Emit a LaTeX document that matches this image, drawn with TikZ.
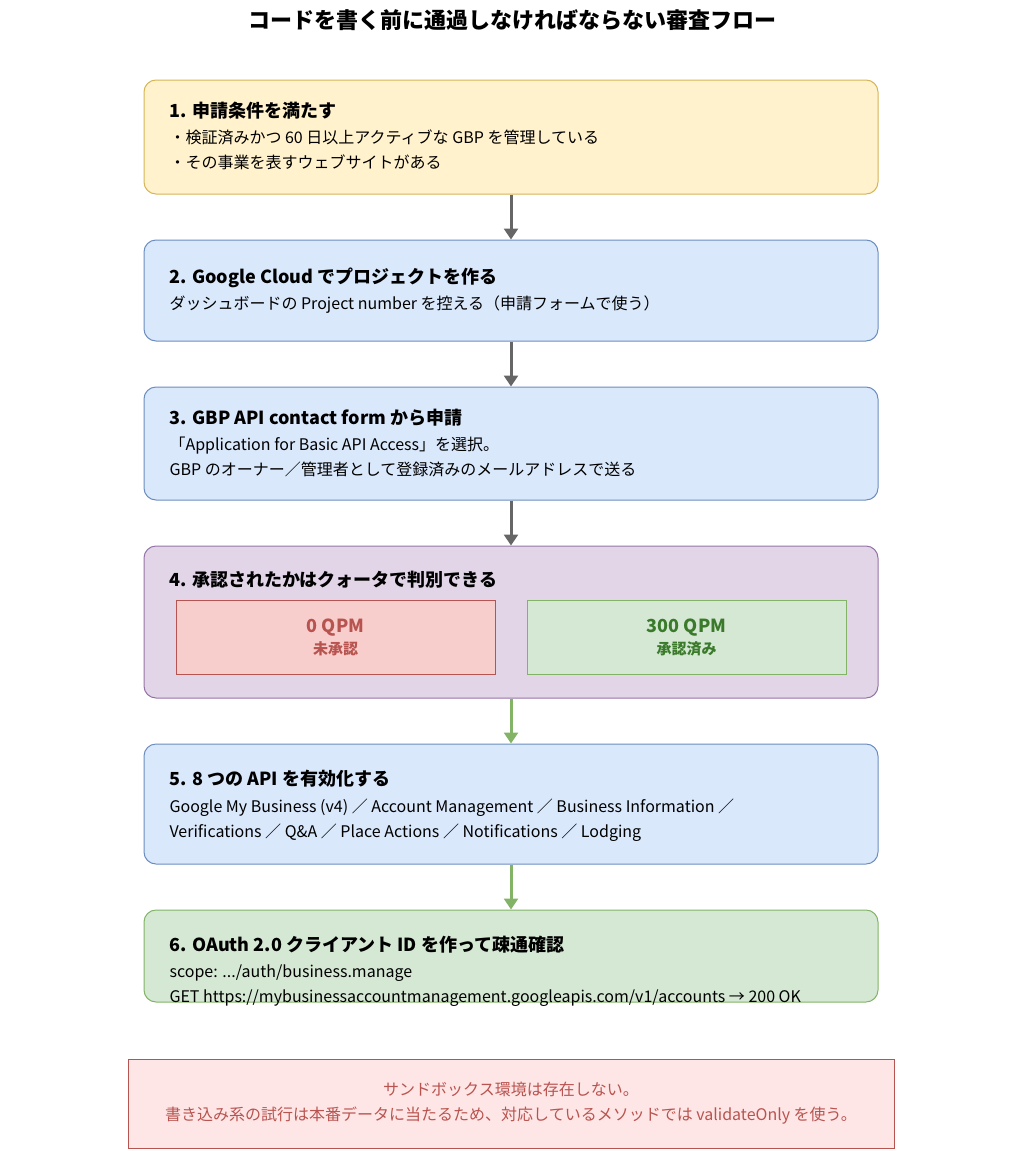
\documentclass[tikz,border=0pt]{standalone}
\usepackage{fontspec}
\setmainfont{Noto Sans CJK JP}
\usepackage{xcolor}
\usetikzlibrary{positioning, arrows.meta}
\definecolor{ykFill}{HTML}{FFF2CC}
\definecolor{ykDraw}{HTML}{D6B656}
\definecolor{blFill}{HTML}{DAE8FC}
\definecolor{blDraw}{HTML}{6C8EBF}
\definecolor{puFill}{HTML}{E1D5E7}
\definecolor{puDraw}{HTML}{9673A6}
\definecolor{rdFill}{HTML}{F8CECC}
\definecolor{rdDraw}{HTML}{B85450}
\definecolor{grFill}{HTML}{D5E8D4}
\definecolor{grDraw}{HTML}{82B366}
\definecolor{grText}{HTML}{3A7A2A}
\definecolor{noteFill}{HTML}{FFE6E6}
\definecolor{arGray}{HTML}{666666}
\tikzset{
    stage/.style={
        rectangle,
        rounded corners=12pt,
        line width=1pt,
        minimum width=734pt,
        inner sep=0pt
    },
    quota/.style={
        rectangle,
        line width=1pt,
        minimum width=319pt,
        minimum height=74pt,
        font=\fontsize{18}{24}\selectfont\bfseries,
        align=center
    },
    head/.style={
        anchor=west,
        font=\fontsize{18}{20}\selectfont\bfseries
    },
    body/.style={
        anchor=north west,
        align=left,
        font=\fontsize{16}{25}\selectfont
    },
    flow/.style={
        -{Triangle[length=11pt,width=14pt]},
        line width=3pt
    }
}
\begin{document}
\begin{tikzpicture}[x=1pt, y=-1pt]
  \useasboundingbox (0,0) rectangle (1024,1151);

  % title
  \node[font=\fontsize{22}{24}\selectfont\bfseries] (title) at (512,20) {コードを書く前に通過しなければならない審査フロー};

  % 1: requirements
  \node[stage, fill=ykFill, draw=ykDraw, minimum height=114pt] (s1) at (511,137) {};
  \node[head] (h1) at (166,111) {1. 申請条件を満たす};
  \node[body] (b1) at (166,126) {・検証済みかつ 60 日以上アクティブな GBP を管理している\\・その事業を表すウェブサイトがある};

  % 2: project
  \node[stage, fill=blFill, draw=blDraw, minimum height=101pt] (s2) at (511,290.5) {};
  \node[head] (h2) at (166,278) {2. Google Cloud でプロジェクトを作る};
  \node[body] (b2) at (166,292) {ダッシュボードの Project number を控える（申請フォームで使う）};

  % 3: contact form
  \node[stage, fill=blFill, draw=blDraw, minimum height=113pt] (s3) at (511,443.5) {};
  \node[head] (h3) at (166,418) {3. GBP API contact form から申請};
  \node[body] (b3) at (166,433) {「Application for Basic API Access」を選択。\\GBP のオーナー／管理者として登録済みのメールアドレスで送る};

  % 4: quota check
  \node[stage, fill=puFill, draw=puDraw, minimum height=152pt] (s4) at (511,622) {};
  \node[head] (h4) at (166,580) {4. 承認されたかはクォータで判別できる};
  \node[quota, fill=rdFill, draw=rdDraw, text=rdDraw] (q0) at (335.5,637) {0 QPM\\[-2pt]{\fontsize{15}{18}\selectfont 未承認}};
  \node[quota, fill=grFill, draw=grDraw, text=grText] (q300) at (686.5,637) {300 QPM\\[-2pt]{\fontsize{15}{18}\selectfont 承認済み}};

  % 5: enable APIs
  \node[stage, fill=blFill, draw=blDraw, minimum height=120pt] (s5) at (511,804) {};
  \node[head] (h5) at (166,779) {5. 8 つの API を有効化する};
  \node[body] (b5) at (166,795) {Google My Business (v4) ／ Account Management ／ Business Information ／\\Verifications ／ Q\&A ／ Place Actions ／ Notifications ／ Lodging};

  % 6: oauth
  \node[stage, fill=grFill, draw=grDraw, minimum height=92pt] (s6) at (511,956) {};
  \node[head] (h6) at (166,945) {6. OAuth 2.0 クライアント ID を作って疎通確認};
  \node[body] (b6) at (166,961) {scope: .../auth/business.manage\\GET https://mybusinessaccountmanagement.googleapis.com/v1/accounts → 200 OK};

  % note
  \node[rectangle, line width=1pt, fill=noteFill, draw=rdDraw, text=rdDraw, minimum width=766pt, minimum height=89pt, align=center, font=\fontsize{16}{25}\selectfont] (note) at (511,1103.5) {サンドボックス環境は存在しない。\\書き込み系の試行は本番データに当たるため、対応しているメソッドでは validateOnly を使う。};

  % arrows
  \draw[flow, arGray] (s1) -- (s2);
  \draw[flow, arGray] (s2) -- (s3);
  \draw[flow, arGray] (s3) -- (s4);
  \draw[flow, grDraw] (s4) -- (s5);
  \draw[flow, grDraw] (s5) -- (s6);

\end{tikzpicture}
\end{document}
